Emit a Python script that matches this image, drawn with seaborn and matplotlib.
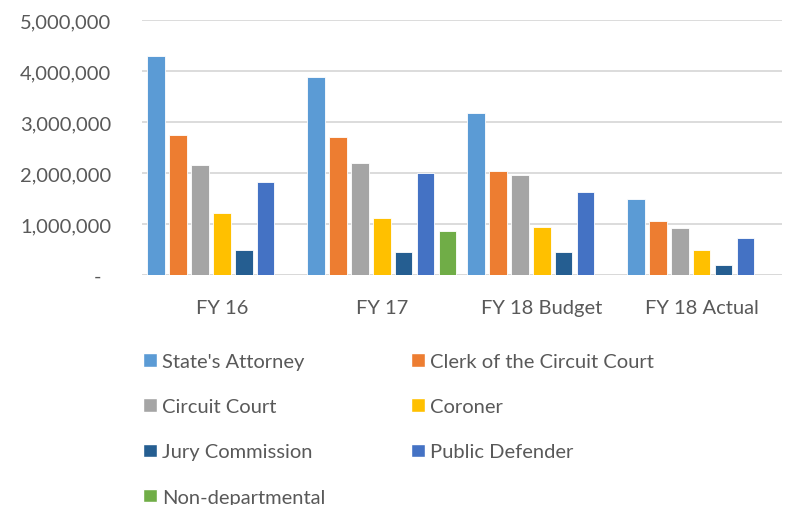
import pandas as pd
import matplotlib.pyplot as plt
import seaborn as sns
from matplotlib.patches import Patch
from matplotlib.ticker import FuncFormatter

# Budget figures per fiscal year
years = ["FY 16", "FY 17", "FY 18 Budget", "FY 18 Actual"]
departments = ["State's Attorney", "Clerk of the Circuit Court", "Circuit Court",
               "Coroner", "Jury Commission", "Public Defender", "Non-departmental"]
states_attorney = [4290000, 3880000, 3170000, 1490000]
clerk_circuit = [2750000, 2710000, 2030000, 1060000]
circuit_court = [2160000, 2190000, 1970000, 930000]
coroner = [1210000, 1120000, 950000, 500000]
jury_commission = [500000, 445000, 460000, 196000]
public_defender = [1820000, 2000000, 1620000, 730000]
non_departmental = [0, 870000, 0, 0]

colors = ["#5B9BD5", "#ED7D31", "#A5A5A5", "#FFC000", "#255E91", "#4472C4", "#70AD47"]

series = [states_attorney, clerk_circuit, circuit_court, coroner,
          jury_commission, public_defender, non_departmental]
rows = []
for dept, vals in zip(departments, series):
    for yr, v in zip(years, vals):
        rows.append({"Year": yr, "Department": dept, "Amount": v})
df = pd.DataFrame(rows)

sns.set_style("white")
plt.rcParams['font.family'] = ['Lato', 'DejaVu Sans']
text_color = "#595959"
fs = 14.5

fig = plt.figure(figsize=(7.88, 5.06), dpi=100)
ax = fig.add_axes([0.180, 0.4545, 0.812, 0.504])

sns.barplot(data=df, x="Year", y="Amount", hue="Department", order=years,
            hue_order=departments, palette=colors, saturation=1, width=0.96, gap=0.2,
            edgecolor="white", linewidth=0.6, legend=False, ax=ax)

ax.set_ylim(0, 5000000)
ax.set_yticks(range(0, 5000001, 1000000))
ax.yaxis.set_major_formatter(FuncFormatter(lambda v, p: "-  " if v == 0 else f"{int(v):,}"))
ax.grid(axis="y", color="#D9D9D9", linewidth=1.3)
ax.set_axisbelow(True)
for s in ax.spines.values():
    s.set_visible(False)
ax.axhline(0, color="#D9D9D9", linewidth=1.8, zorder=0.5)
ax.tick_params(axis="y", length=0, pad=22, labelsize=fs, labelcolor=text_color)
ax.tick_params(axis="x", length=0, pad=17, labelsize=fs, labelcolor=text_color)
ax.set_xlabel("")
ax.set_ylabel("")

# Legend, two columns filled row-wise like the original
legend_kw = dict(loc="upper left", frameon=False, fontsize=fs, labelcolor=text_color,
                 handlelength=0.7, handleheight=0.65, handletextpad=0.25,
                 labelspacing=1.4, borderpad=0, borderaxespad=0)
col1 = [Patch(facecolor=colors[i], label=departments[i]) for i in [0, 2, 4, 6]]
col2 = [Patch(facecolor=colors[i], label=departments[i]) for i in [1, 3, 5]]
fig.legend(handles=col1, bbox_to_anchor=(143 / 788, 1 - 354 / 506), **legend_kw)
fig.legend(handles=col2, bbox_to_anchor=(411 / 788, 1 - 354 / 506), **legend_kw)

fig.savefig("out.png", dpi=100)
